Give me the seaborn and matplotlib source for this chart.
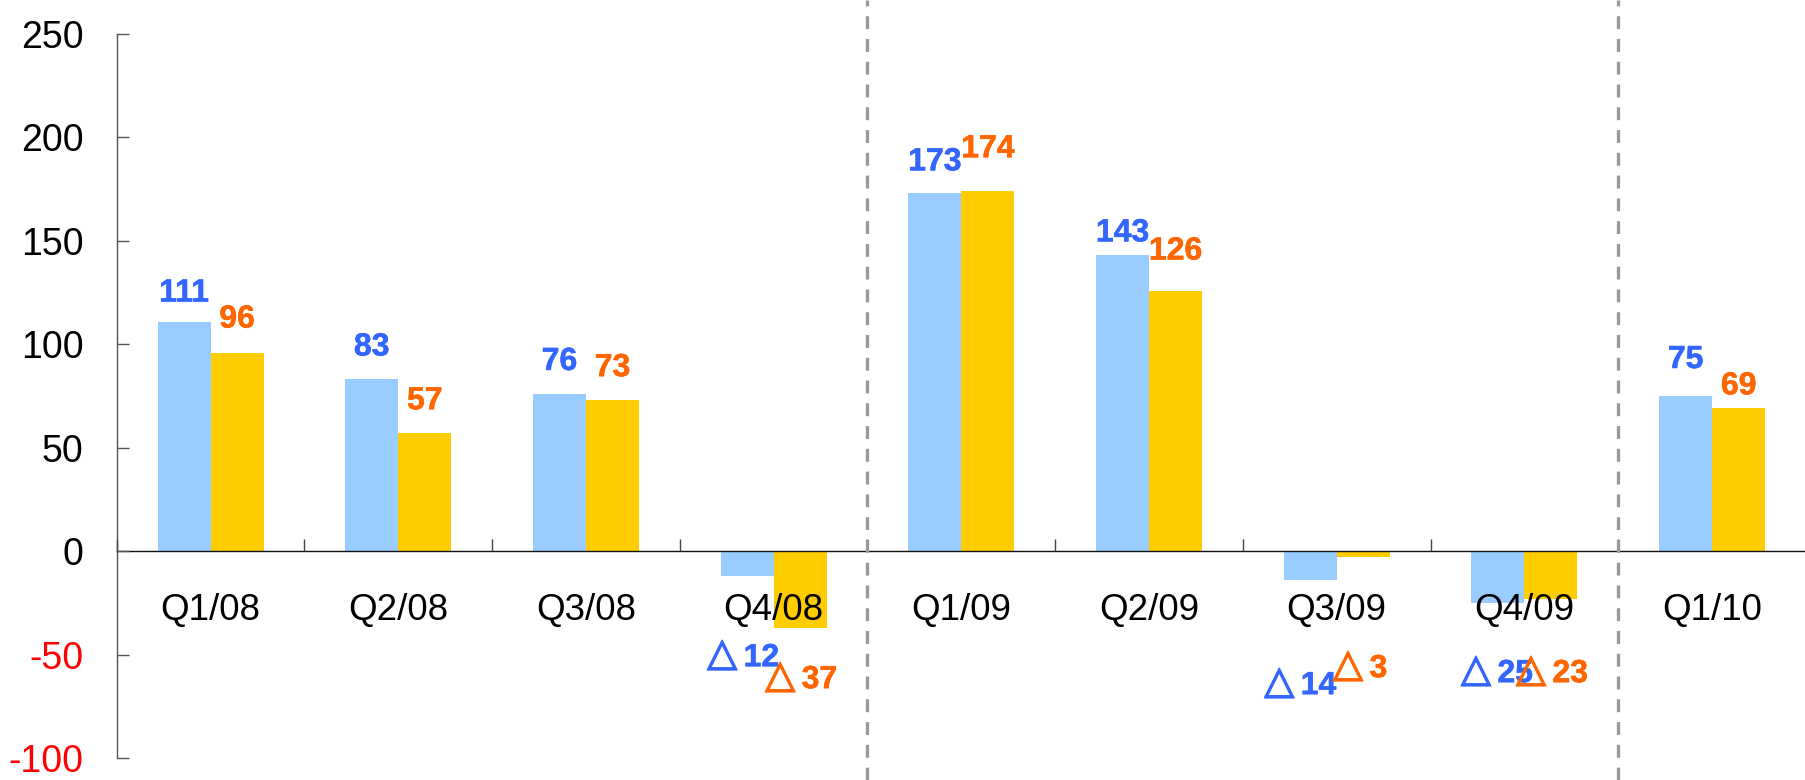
import matplotlib
matplotlib.use("Agg")
import matplotlib.pyplot as plt
import matplotlib.ticker as mticker
import matplotlib.patheffects as pe
import seaborn as sns
import pandas as pd

# ---- data -------------------------------------------------------------
quarters = ["Q1/08", "Q2/08", "Q3/08", "Q4/08", "Q1/09", "Q2/09", "Q3/09", "Q4/09", "Q1/10"]
series_names = ["Series 1", "Series 2"]
values_1 = [111, 83, 76, -12, 173, 143, -14, -25, 75]
values_2 = [96, 57, 73, -37, 174, 126, -3, -23, 69]
y_ticks = [-100, -50, 0, 50, 100, 150, 200, 250]
period_breaks = [3.5, 7.5]

# ---- styling ----------------------------------------------------------
bar_colors = ["#99CCFF", "#FFCC00"]
label_colors = ["#3366FF", "#FF6600"]
DPI = 100
PX = 72.0 / DPI  # points per pixel
VALUE_FS = 23

# gap (px) between the top of a positive bar and its label
pos_gap = [
    [20, 24, 24, None, 23, 14, None, None, 28],
    [25, 24, 24, None, 34, 31, None, None, 14],
]
# placement of labels for negative bars: (label centre in data units, x shift px)
neg_place = [
    {3: (-50.3, -5), 6: (-63.8, -11), 7: (-58.0, -2)},
    {3: (-60.9, 0), 6: (-55.6, -3), 7: (-58.0, 0)},
]
TRI_W, TRI_GAP, DIGIT_W = 25.0, 9.0, 15.5   # px, approximate ink widths

sns.set_style("white")
plt.rcParams["font.family"] = ["Liberation Sans", "DejaVu Sans"]

df = pd.DataFrame({
    "quarter": quarters * 2,
    "value": values_1 + values_2,
    "series": [series_names[0]] * len(quarters) + [series_names[1]] * len(quarters),
})

fig = plt.figure(figsize=(1806 / DPI, 780 / DPI), dpi=DPI)
ax_left, ax_top, ax_bottom = 116.7, 34.0, 758.0
ax = fig.add_axes([ax_left / 1806, 1 - ax_bottom / 780,
                   (1806 - ax_left) / 1806, (ax_bottom - ax_top) / 780])

sns.barplot(data=df, x="quarter", y="value", hue="series", order=quarters,
            hue_order=series_names, palette=bar_colors, width=0.565, gap=0,
            saturation=1, linewidth=0, legend=False, ax=ax)
ax.set_axisbelow(False)

ax.set_xlim(-0.5, len(quarters) - 0.5)
ax.set_ylim(-100, 250)
ax.set_xlabel("")
ax.set_ylabel("")

# spines: left axis plus a zero baseline
for s in ["top", "right"]:
    ax.spines[s].set_visible(False)
ax.spines["left"].set_color("#555555")
ax.spines["left"].set_linewidth(1.0)
ax.spines["bottom"].set_position(("data", 0))
ax.spines["bottom"].set_color("#111111")
ax.spines["bottom"].set_linewidth(1.0)

# y axis
ax.yaxis.set_major_locator(mticker.FixedLocator(y_ticks))
ax.set_yticklabels([str(t) for t in y_ticks])
ax.tick_params(axis="y", left=True, direction="in", length=12 * PX, width=1.0,
               color="#555555", pad=33 * PX, labelsize=27, labelcolor="black")
for lbl, t in zip(ax.get_yticklabels(), y_ticks):
    lbl.set_color("#FF0000" if t < 0 else "black")

# x axis: boundary ticks (major, unlabeled) and category labels (minor)
n = len(quarters)
ax.xaxis.set_major_locator(mticker.FixedLocator([i - 0.5 for i in range(n + 1)]))
ax.xaxis.set_major_formatter(mticker.NullFormatter())
ax.xaxis.set_minor_locator(mticker.FixedLocator(list(range(n))))
ax.xaxis.set_minor_formatter(mticker.FixedFormatter(quarters))
ax.tick_params(axis="x", which="major", bottom=True, direction="in",
               length=12 * PX, width=1.0, color="#444444")
ax.tick_params(axis="x", which="minor", bottom=True, length=0, pad=30,
               labelsize=26.5, labelcolor="black")
for t in ax.xaxis.get_major_ticks():
    t.tick1line.set_clip_on(False)

# dashed separators between years, running the full figure height
for xb in period_breaks:
    ax.axvline(xb, ymin=-(780 - ax_bottom) / (ax_bottom - ax_top),
               ymax=1 + ax_top / (ax_bottom - ax_top), color="#999999",
               lw=3.3 * PX, linestyle=(0, (3.9, 3.0)), clip_on=False, zorder=5)


def heavy(color, w=0.4):
    return [pe.withStroke(linewidth=w, foreground=color)]


# value labels
for si, cont in enumerate(ax.containers):
    vals = values_1 if si == 0 else values_2
    col = label_colors[si]
    for qi, (bar, v) in enumerate(zip(cont, vals)):
        xc = bar.get_x() + bar.get_width() / 2
        if v >= 0:
            ax.annotate(str(v), xy=(xc, v), xytext=(0, pos_gap[si][qi] * PX),
                        textcoords="offset points", ha="center", va="baseline",
                        fontsize=VALUE_FS, fontweight="bold", color=col,
                        path_effects=heavy(col))
        else:
            yc, dx = neg_place[si][qi]
            digits = str(abs(v))
            width = TRI_W + TRI_GAP + DIGIT_W * len(digits)
            left = dx - width / 2
            # triangle marker glyph, then the magnitude in bold
            ax.annotate("\u25b3", xy=(xc, yc),
                        xytext=((left + TRI_W / 2) * PX, -10 * PX),
                        textcoords="offset points", ha="center", va="baseline",
                        fontsize=28, family=["DejaVu Sans"], color=col,
                        path_effects=heavy(col, 1.0), annotation_clip=False)
            ax.annotate(digits, xy=(xc, yc),
                        xytext=((left + TRI_W + TRI_GAP) * PX, -11 * PX),
                        textcoords="offset points", ha="left", va="baseline",
                        fontsize=VALUE_FS, fontweight="bold", color=col,
                        path_effects=heavy(col), annotation_clip=False)

fig.savefig("out.png", dpi=DPI)
